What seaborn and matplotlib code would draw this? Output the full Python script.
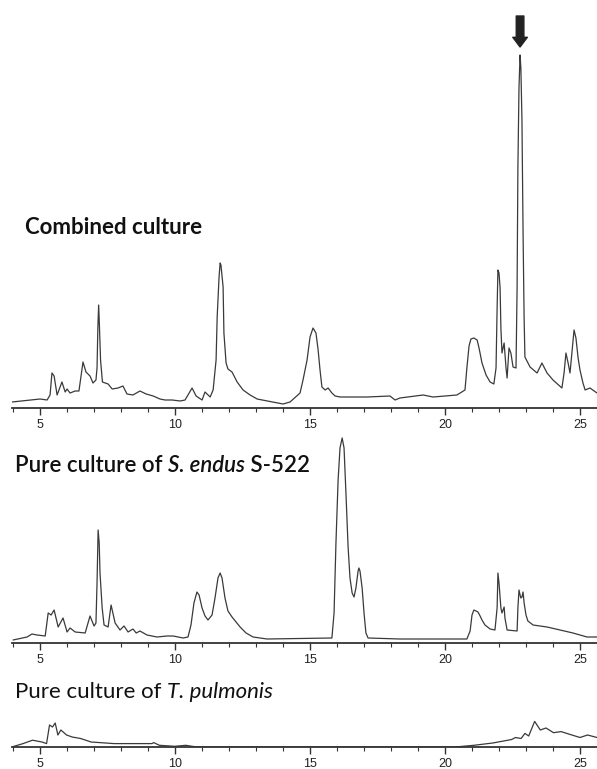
import matplotlib
matplotlib.use('Agg')
import matplotlib.pyplot as plt
from matplotlib.ticker import MultipleLocator
import seaborn as sns

# retention time (min) and detector response (arbitrary units)
combined_time = [3.96, 5.00, 5.26, 5.37, 5.44, 5.52, 5.63, 5.81, 5.93, 6.00, 6.11, 6.30,
                 6.44, 6.59, 6.70, 6.85, 6.96, 7.07, 7.11, 7.14, 7.17, 7.20, 7.24, 7.31,
                 7.52, 7.67, 7.89, 8.07, 8.22, 8.44, 8.70, 8.93, 9.19, 9.44, 9.63, 9.89,
                 10.19, 10.37, 10.63, 10.78, 11.00, 11.11, 11.30, 11.41, 11.52, 11.56, 11.63,
                 11.67, 11.70, 11.78, 11.81, 11.89, 11.96, 12.11, 12.30, 12.52, 12.78, 13.04,
                 14.00, 14.26, 14.63, 14.74, 14.89, 15.00, 15.11, 15.22, 15.30, 15.37, 15.44,
                 15.56, 15.67, 15.81, 15.93, 16.11, 17.11, 17.96, 18.15, 18.33, 19.19, 19.56,
                 20.44, 20.74, 20.81, 20.89, 20.96, 21.07, 21.19, 21.26, 21.37, 21.52, 21.67,
                 21.81, 21.89, 21.93, 21.96, 22.00, 22.04, 22.07, 22.11, 22.19, 22.26, 22.30,
                 22.37, 22.44, 22.52, 22.63, 22.67, 22.70, 22.74, 22.78, 22.81, 22.85, 22.89,
                 22.93, 22.96, 23.15, 23.41, 23.59, 23.78, 24.00, 24.33, 24.41, 24.48, 24.56,
                 24.63, 24.70, 24.78, 24.85, 24.93, 25.00, 25.11, 25.19, 25.37, 25.63]
combined_signal = [6, 9, 8, 13, 35, 32, 13, 26, 16, 19, 15, 17,
                   17, 46, 36, 32, 25, 28, 40, 80, 103, 81, 48, 26,
                   24, 19, 20, 22, 14, 13, 17, 14, 12, 9, 8, 8,
                   7, 8, 20, 12, 8, 16, 11, 18, 48, 91, 131,
                   145, 143, 121, 75, 45, 39, 36, 26, 18, 13, 9,
                   4, 6, 15, 28, 48, 71, 80, 75, 58, 38, 21,
                   18, 20, 15, 12, 11, 11, 12, 8, 10, 13, 11,
                   13, 18, 40, 62, 69, 70, 68, 60, 45, 33, 26,
                   24, 40, 100, 138, 135, 120, 80, 55, 65, 40, 30,
                   60, 55, 41, 40, 120, 241, 320, 353, 340, 288, 178,
                   90, 51, 41, 35, 45, 35, 28, 20, 35, 55, 45,
                   35, 55, 78, 70, 50, 38, 25, 18, 20, 15]

endus_time = [4.00, 4.52, 4.70, 4.89, 5.19, 5.30, 5.41, 5.52, 5.67, 5.85, 6.00, 6.11,
              6.30, 6.67, 6.85, 7.00, 7.07, 7.11, 7.15, 7.19, 7.22, 7.30, 7.37, 7.52,
              7.63, 7.78, 7.96, 8.11, 8.26, 8.44, 8.56, 8.70, 8.96, 9.33, 9.70, 9.93,
              10.30, 10.48, 10.59, 10.70, 10.81, 10.89, 11.00, 11.11, 11.22, 11.37, 11.48,
              11.59, 11.67, 11.74, 11.85, 11.96, 12.11, 12.26, 12.41, 12.63, 12.89, 13.41,
              15.81, 15.89, 15.96, 16.04, 16.11, 16.19, 16.26, 16.33, 16.41, 16.48, 16.56,
              16.63, 16.70, 16.78, 16.81, 16.85, 16.93, 17.00, 17.07, 17.15, 18.33, 20.81,
              20.93, 21.00, 21.07, 21.15, 21.22, 21.30, 21.37, 21.48, 21.67, 21.85, 21.93,
              21.96, 22.00, 22.07, 22.11, 22.19, 22.22, 22.30, 22.67, 22.70, 22.74, 22.78,
              22.81, 22.85, 22.89, 22.93, 23.00, 23.07, 23.26, 23.78, 24.26, 24.74, 25.26,
              25.63]
endus_signal = [3, 6, 9, 8, 7, 30, 28, 33, 16, 25, 11, 15,
                11, 10, 27, 17, 20, 60, 113, 100, 70, 35, 18, 16,
                38, 20, 13, 17, 11, 14, 10, 12, 8, 6, 7, 7,
                5, 6, 18, 40, 51, 48, 35, 27, 23, 28, 45,
                65, 70, 65, 45, 32, 26, 21, 16, 10, 6, 4,
                5, 30, 100, 163, 195, 205, 195, 150, 96, 65, 50,
                46, 55, 72, 75, 72, 55, 30, 10, 5, 4, 4,
                12, 28, 33, 32, 31, 27, 23, 18, 14, 13, 35,
                70, 60, 35, 30, 36, 25, 13, 12, 35, 53, 48,
                45, 46, 51, 40, 28, 22, 18, 16, 13, 10, 6,
                6]

pulmonis_time = [3.95, 4.37, 4.72, 5.07, 5.24, 5.35, 5.46, 5.56, 5.66, 5.77, 5.98, 6.19,
                 6.50, 6.89, 7.74, 9.14, 9.21, 9.42, 9.98, 10.40, 10.80, 20.37, 21.07,
                 21.77, 22.47, 22.61, 22.82, 22.96, 23.10, 23.32, 23.53, 23.74, 24.02,
                 24.30, 24.58, 25.00, 25.28, 25.63]
pulmonis_signal = [0, 3.4, 6.8, 5, 3.4, 22, 20, 24, 12, 17, 12, 10,
                   8.5, 5, 3.4, 3.4, 4.4, 1.7, 0.7, 1.7, 0, 0, 1.7,
                   4, 7.5, 9.5, 8.5, 13.6, 11, 25.6, 17, 19, 14.3,
                   15.4, 13, 9.5, 12, 9.5]

titles = ['Combined culture', 'Pure culture of S. endus S-522', 'Pure culture of T. pulmonis']
target_time = 22.78

sns.set_style('white')
plt.rcParams['font.family'] = ['Liberation Sans', 'DejaVu Sans']

W, H = 597, 769
fig = plt.figure(figsize=(W / 100, H / 100), dpi=100)


def px_axes(left, bottom, right, top):
    # pixel box -> figure fraction
    return fig.add_axes([left / W, 1 - bottom / H, (right - left) / W, (bottom - top) / H])


ax1 = px_axes(12, 408, 597, 8)
ax2 = px_axes(12, 643, 597, 430)
ax3 = px_axes(12, 747, 597, 715)

panels = [(ax1, combined_time, combined_signal, 400),
          (ax2, endus_time, endus_signal, 213),
          (ax3, pulmonis_time, pulmonis_signal, 32)]

for ax, t, s, ytop in panels:
    sns.lineplot(x=t, y=s, ax=ax, color='#3a3a3a', linewidth=0.9)
    ax.set_xlim(3.96, 25.63)
    ax.set_ylim(0, ytop)
    ax.patch.set_alpha(0)
    for side in ['top', 'right', 'left']:
        ax.spines[side].set_visible(False)
    ax.spines['bottom'].set_color('#333333')
    ax.spines['bottom'].set_linewidth(1.3)
    ax.set_yticks([])
    ax.xaxis.set_major_locator(MultipleLocator(5))
    ax.xaxis.set_minor_locator(MultipleLocator(1))
    ax.tick_params(axis='x', which='major', bottom=True, length=5, width=1,
                   color='#333333', labelsize=9, pad=3, labelcolor='#222222')
    ax.tick_params(axis='x', which='minor', bottom=True, length=3, width=0.8, color='#333333')
    ax.set_xlabel('')
    ax.set_ylabel('')

# arrow pointing at the new peak
ax1.annotate('', xy=(target_time, 361), xytext=(target_time, 392),
             arrowprops=dict(width=5.5, headwidth=10.5, headlength=7, color='#222222', shrink=0))

title_font = ['Lato', 'DejaVu Sans']
tsize = 16

fig.text(25 / W, 1 - 227 / H, titles[0], fontsize=tsize, fontweight='bold',
         family=title_font, va='center', ha='left', color='#111111')


def mixed_title(x, y, parts, weight):
    prev = None
    for txt, style in parts:
        if prev is None:
            prev = fig.text(x / W, 1 - y / H, txt, fontsize=tsize, fontweight=weight,
                            fontstyle=style, family=title_font, va='center', ha='left',
                            color='#111111')
        else:
            prev = ax1.annotate(txt, xy=(1, 0), xycoords=prev, va='bottom', ha='left',
                                fontsize=tsize, fontweight=weight, fontstyle=style,
                                family=title_font, color='#111111', annotation_clip=False)


mixed_title(15, 465, [('Pure culture of ', 'normal'), ('S. endus', 'italic'),
                      (' S-522', 'normal')], 'semibold')
mixed_title(15, 692, [('Pure culture of ', 'normal'), ('T. pulmonis', 'italic')], 'normal')

fig.savefig('out.png', dpi=100)
